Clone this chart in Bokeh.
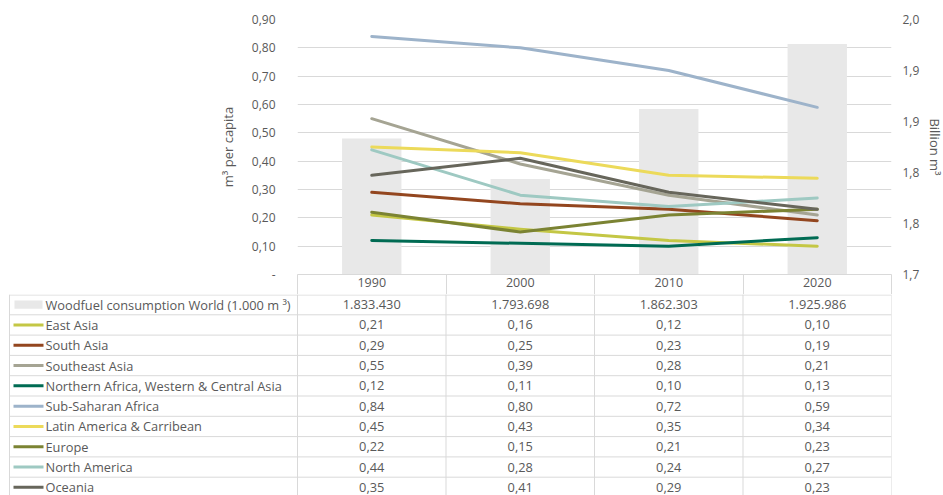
from bokeh.plotting import figure
from bokeh.models import Range1d, LinearAxis, FixedTicker, CustomJSTickFormatter
from bokeh.layouts import column
from bokeh.embed import file_html
from bokeh.resources import INLINE
from bokeh.core.properties import value

# ---------------- data ----------------
years = ["1990", "2000", "2010", "2020"]
woodfuel_world = [1833430, 1793698, 1862303, 1925986]  # 1.000 m³
regions = ["East Asia", "South Asia", "Southeast Asia",
           "Northern Africa, Western & Central Asia", "Sub-Saharan Africa",
           "Latin America & Carribean", "Europe", "North America", "Oceania"]
east_asia = [0.21, 0.16, 0.12, 0.10]
south_asia = [0.29, 0.25, 0.23, 0.19]
southeast_asia = [0.55, 0.39, 0.28, 0.21]
n_africa_w_c_asia = [0.12, 0.11, 0.10, 0.13]
sub_saharan_africa = [0.84, 0.80, 0.72, 0.59]
latin_america = [0.45, 0.43, 0.35, 0.34]
europe = [0.22, 0.15, 0.21, 0.23]
north_america = [0.44, 0.28, 0.24, 0.27]
oceania = [0.35, 0.41, 0.29, 0.23]
series = [east_asia, south_asia, southeast_asia, n_africa_w_c_asia,
          sub_saharan_africa, latin_america, europe, north_america, oceania]
colors = ["#c4c745", "#93461f", "#a5a493", "#006b53", "#9db3ca",
          "#ecda5a", "#7b8333", "#9ec9c2", "#67665b"]
left_ticks = [0.0, 0.1, 0.2, 0.3, 0.4, 0.5, 0.6, 0.7, 0.8, 0.9]
right_ticks = [1.70, 1.75, 1.80, 1.85, 1.90, 1.95]

TXT = "#595959"
GRID = "#d9d9d9"
FONT = "Open Sans"

# ---------------- layout (px) ----------------
COLW = 148.5         # width of a year column
LAB = 297            # left of chart frame
RB = 52              # right border for right axis
HDR = 20             # header row (x axis) height

n = len(years)
xc = [i + 0.5 for i in range(n)]
bounds = list(range(n + 1))


def no_align(fig):
    if "frame_align" in fig.properties():
        fig.frame_align = False


# ---------------- chart ----------------
p = figure(frame_width=int(COLW * n), frame_height=255,
           x_range=Range1d(0, n), y_range=Range1d(left_ticks[0], left_ticks[-1]),
           output_backend="svg", toolbar_location=None,
           min_border_left=LAB, min_border_right=RB, min_border_top=19, min_border_bottom=HDR,
           outline_line_color=None, background_fill_color="white", border_fill_color="white")
no_align(p)
p.extra_y_ranges = {"bar": Range1d(right_ticks[0], right_ticks[-1])}

xa = p.xaxis[0]
xa.ticker = FixedTicker(ticks=xc, minor_ticks=bounds)
xa.formatter = CustomJSTickFormatter(args=dict(labels=years), code="return labels[Math.floor(tick)];")
xa.axis_line_color = GRID
xa.major_tick_line_color = None
xa.major_tick_out = 0
xa.major_tick_in = 0
xa.minor_tick_out = HDR
xa.minor_tick_in = 0
xa.minor_tick_line_color = GRID
xa.major_label_standoff = -17
xa.major_label_text_font = FONT
xa.major_label_text_font_size = "12.5px"
xa.major_label_text_color = TXT

ya = p.yaxis[0]
ya.ticker = FixedTicker(ticks=left_ticks)
ya.formatter = CustomJSTickFormatter(code="""
if (Math.abs(tick) < 1e-9) return "-";
return tick.toFixed(2).replace(".", ",");
""")
ya.axis_line_color = None
ya.major_tick_line_color = None
ya.minor_tick_line_color = None
ya.major_tick_out = 0
ya.minor_tick_out = 0
ya.major_label_standoff = 22
ya.major_label_text_font = FONT
ya.major_label_text_font_size = "12px"
ya.major_label_text_color = TXT
ya.axis_label = "m³ per capita"
ya.axis_label_text_font = FONT
ya.axis_label_text_font_size = "13px"
ya.axis_label_text_font_style = "normal"
ya.axis_label_text_color = TXT
ya.axis_label_standoff = 12

ra = LinearAxis(y_range_name="bar", ticker=FixedTicker(ticks=right_ticks),
                formatter=CustomJSTickFormatter(code="return (Math.round(tick*10 + 1e-6)/10).toFixed(1).replace('.', ',');"))
ra.axis_line_color = None
ra.major_tick_line_color = None
ra.minor_tick_line_color = None
ra.major_tick_out = 0
ra.minor_tick_out = 0
ra.major_label_standoff = 11
ra.major_label_text_font = FONT
ra.major_label_text_font_size = "12px"
ra.major_label_text_color = TXT
ra.axis_label = "Billion m³"
ra.axis_label_text_font = FONT
ra.axis_label_text_font_size = "13px"
ra.axis_label_text_font_style = "normal"
ra.axis_label_text_color = TXT
ra.axis_label_standoff = 4
p.add_layout(ra, "right")

p.xgrid.visible = False
p.ygrid.ticker = FixedTicker(ticks=left_ticks)
p.ygrid.grid_line_color = GRID

bar_vals = [v / 1e6 for v in woodfuel_world]
p.vbar(x=xc, top=bar_vals, bottom=right_ticks[0], width=0.4, y_range_name="bar",
       fill_color="#e8e8e8", line_color=None)

for vals, c in zip(series, colors):
    p.line(xc, vals, line_width=3, line_color=c, line_cap="round", line_join="round")

# ---------------- data table ----------------
TH = 201
ROWH = 20.3
TL = 8               # table frame left
t = figure(frame_width=int(LAB - TL + COLW * n), frame_height=TH,
           x_range=Range1d(-(LAB - TL) / COLW, n), y_range=Range1d(TH / ROWH, 0),
           output_backend="svg", toolbar_location=None,
           min_border_left=TL, min_border_right=RB, min_border_top=0, min_border_bottom=0,
           x_axis_location=None, y_axis_location=None, outline_line_color=None,
           background_fill_color="white", border_fill_color="white")
no_align(t)
t.grid.visible = False

x_left = -(LAB - TL - 1) / COLW
nrows = len(regions) + 1
hl = [0.5 / ROWH] + list(range(1, nrows + 1))
t.segment(x0=[x_left] * len(hl), x1=[n] * len(hl), y0=hl, y1=hl, line_color=GRID, line_width=1)
vx = [x_left] + bounds
t.segment(x0=vx, x1=vx, y0=[0] * len(vx), y1=[nrows] * len(vx), line_color=GRID, line_width=1)

sw0 = x_left + 4 / COLW
sw1 = x_left + 34 / COLW
tx = x_left + 36 / COLW

# row 0: bar series swatch
t.quad(left=[sw0 + 1 / COLW], right=[sw1 - 1 / COLW], top=[0.3], bottom=[0.7],
       fill_color="#e8e8e8", line_color=None)
row_labels = ["Woodfuel consumption World (1.000 m ³)"] + regions
ry = [r + 0.5 for r in range(nrows)]
t.text(x=[tx] * nrows, y=ry, text=row_labels, text_font=value(FONT), text_font_size="12.8px",
       text_color=TXT, text_align="left", text_baseline="middle")

# legend swatches for lines
t.segment(x0=[sw0] * len(regions), x1=[sw1] * len(regions), y0=ry[1:], y1=ry[1:],
          line_color=colors, line_width=3)

# values
cx, cy, ct = [], [], []
for i in range(n):
    cx.append(xc[i]); cy.append(ry[0]); ct.append(f"{woodfuel_world[i]:,}".replace(",", "."))
for r, vals in enumerate(series):
    for i in range(n):
        cx.append(xc[i]); cy.append(ry[r + 1]); ct.append(f"{vals[i]:.2f}".replace(".", ","))
t.text(x=cx, y=cy, text=ct, text_font=value(FONT), text_font_size="12.8px",
       text_color=TXT, text_align="center", text_baseline="middle")

layout = column(p, t, spacing=0)
open("out.html", "w").write(file_html(layout, INLINE))
